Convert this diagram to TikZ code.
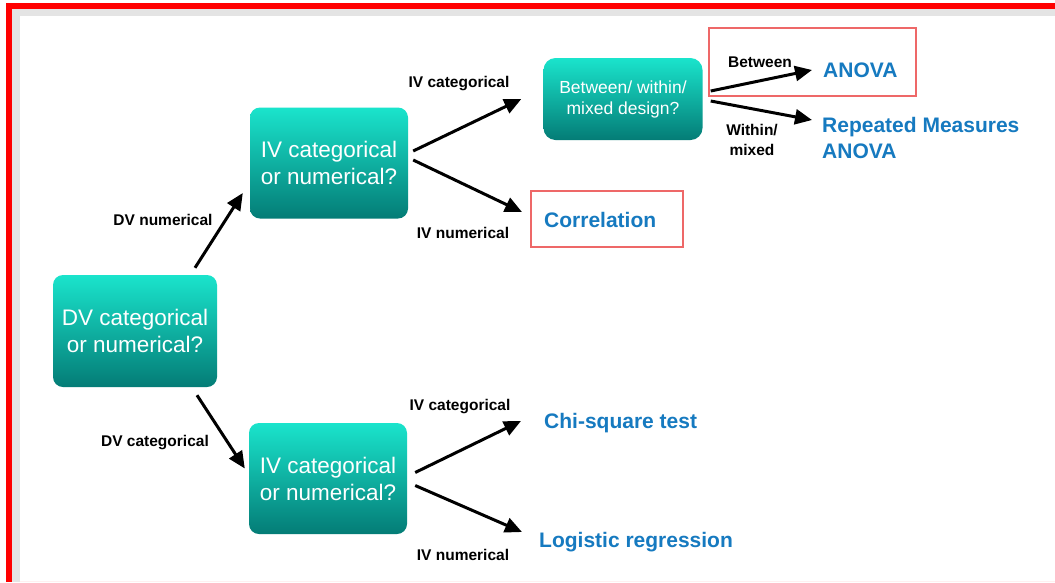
\documentclass[tikz,border=0pt]{standalone}
\usepackage{fontspec}
\setmainfont{Liberation Sans}
\usetikzlibrary{arrows.meta, calc}

\definecolor{tealtop}{RGB}{26,228,204}
\definecolor{tealbot}{RGB}{4,124,118}
\definecolor{resblue}{RGB}{22,122,192}
\definecolor{hilite}{RGB}{238,104,104}
\definecolor{framered}{RGB}{255,0,0}
\definecolor{framegray}{RGB}{228,228,228}

\begin{document}
\begin{tikzpicture}[x=1pt, y=-1pt,
  question/.style={rounded corners=10pt, top color=tealtop, bottom color=tealbot,
    text=white, align=center, inner sep=0pt},
  branch/.style={font=\bfseries\fontsize{15.5}{20}\selectfont, align=center, inner sep=0pt},
  result/.style={font=\bfseries\fontsize{21}{26}\selectfont, text=resblue,
    anchor=west, align=left, inner sep=0pt},
  arr/.style={line width=3pt, -{Triangle[length=17pt,width=15pt]}},
  hibox/.style={draw=hilite, line width=1.5pt}]
\useasboundingbox (0,0) rectangle (1055,582);
%the frame
\fill[white] (0,0) rectangle (1055,582);
\fill[framegray] (12,8) rectangle (1055,16);
\fill[framegray] (12,8) rectangle (20,582);
\fill[framered] (6,3) rectangle (1055,8.5);
\fill[framered] (6,3) rectangle (12,582);
\fill[red!6] (20,580.5) rectangle (1055,582);

%the questions
\node[question, minimum width=164pt, minimum height=112pt,
  font=\fontsize{22.5}{27}\selectfont] (dv) at (135,331) {DV categorical\\or numerical?};
\node[question, minimum width=158pt, minimum height=111pt,
  font=\fontsize{22.5}{27}\selectfont] (ivA) at (329,163) {IV categorical\\or numerical?};
\node[question, minimum width=158pt, minimum height=111pt,
  font=\fontsize{22.5}{27}\selectfont] (ivB) at (328,478.5) {IV categorical\\or numerical?};
\node[question, minimum width=159pt, minimum height=82pt, rounded corners=12pt,
  font=\fontsize{17.5}{21}\selectfont] (design) at (623,99) {Between/ within/\\mixed design?};

%the tests
\node[result] (corr) at (544,220) {Correlation};
\node[result] (anova) at (823,70) {ANOVA};
\node[result] (rm) at (822,138) {Repeated Measures\\ANOVA};
\node[result] (chi) at (544,423) {Chi-square test};
\node[result] (logit) at (539,542) {Logistic regression};

%the highlights
\draw[hibox] (531,191) rectangle (683,247);
\draw[hibox] (709,28) rectangle (916,96);

%the branches
\draw[arr] ($(dv.north)+(60,-7)$) -- ($(ivA.west)+(-7,30)$);
\node[branch] (dvnum) at (163,220) {DV numerical};
\draw[arr] ($(dv.south)+(62,8)$) -- ($(ivB.west)+(-4,-10)$);
\node[branch] (dvcat) at (155,443) {DV categorical};

\draw[arr] ($(ivA.east)+(5,-12)$) -- ($(design.west)+(-22,0)$);
\node[branch] (ivAcat) at (459,84) {IV categorical};
\draw[arr] ($(ivA.east)+(5,-3)$) -- ($(corr.west)+(-22,-8)$);
\node[branch] (ivAnum) at (463,233) {IV numerical};

\draw[arr] ($(design.east)+(8,-8)$) -- ($(anova.west)+(-11,0)$);
\node[branch] (betw) at (760,62) {Between};
\draw[arr] ($(design.east)+(8,2)$) -- ($(rm.west)+(-10,-18)$);
\node[branch] (within) at (752,140) {Within/\\mixed};

\draw[arr] ($(ivB.east)+(8,-6)$) -- ($(chi.west)+(-23,-2)$);
\node[branch] (ivBcat) at (460,407) {IV categorical};
\draw[arr] ($(ivB.east)+(8,7)$) -- ($(logit.west)+(-17,-10)$);
\node[branch] (ivBnum) at (463,555) {IV numerical};
\end{tikzpicture}
\end{document}
